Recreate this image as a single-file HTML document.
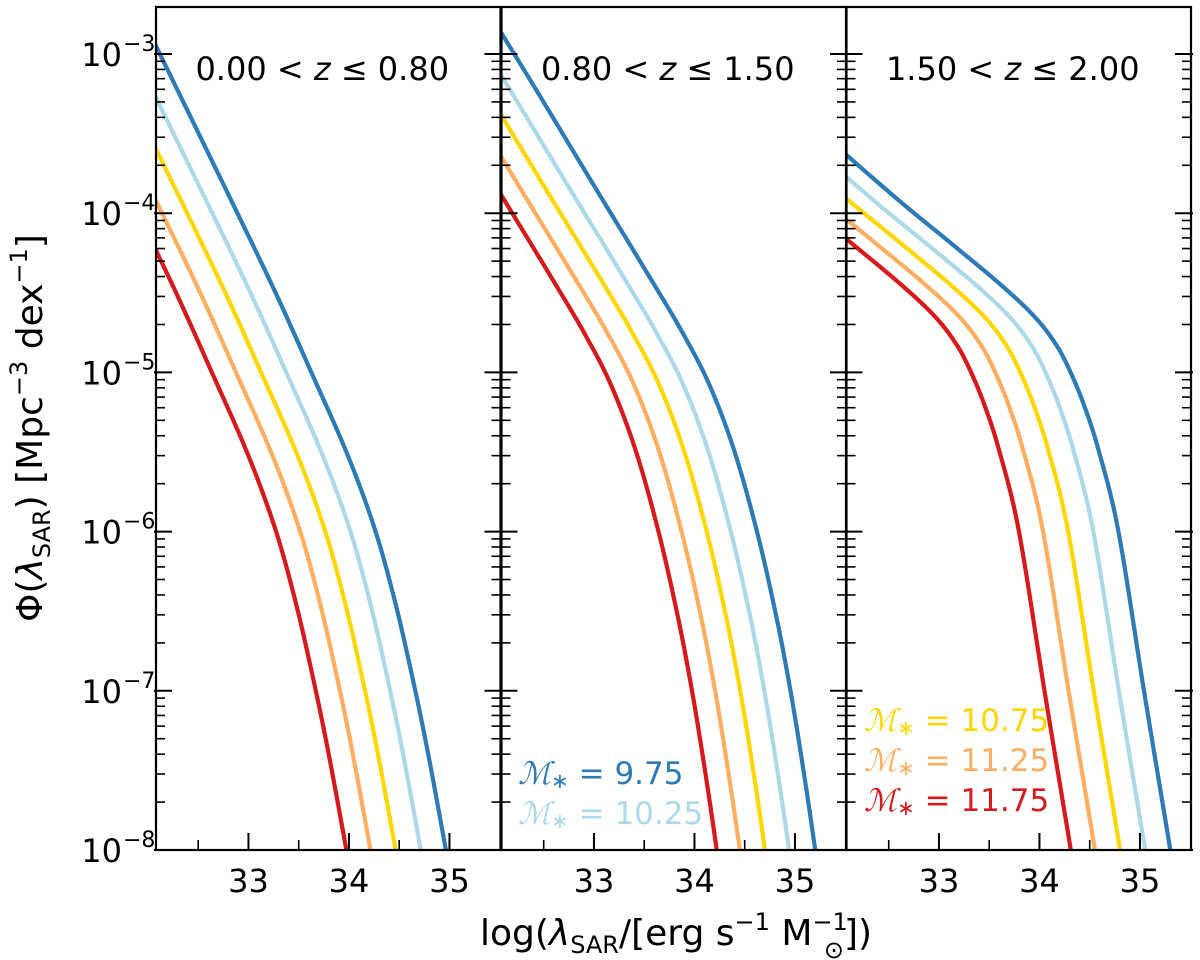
<!DOCTYPE html>
<html><head><meta charset="utf-8"><style>
html,body{margin:0;padding:0;background:#fff}
svg{display:block;font-family:"DejaVu Sans","Liberation Sans",sans-serif}
</style></head><body>
<svg id="chart" width="1200" height="960" viewBox="0 0 1200 960" xmlns="http://www.w3.org/2000/svg">
<g id="panels"></g>
<text x="676" y="945" font-size="36" text-anchor="middle">log(<tspan font-style="italic">λ</tspan><tspan font-size="24" dy="8">SAR</tspan><tspan dy="-8">/[erg s</tspan><tspan font-size="24" dy="-15">−1</tspan><tspan dy="15"> M</tspan><tspan font-size="24" dy="-15">−1</tspan><tspan font-size="24" dx="-24" dy="28">⊙</tspan><tspan dy="-13">])</tspan></text>
<text transform="translate(42,428) rotate(-90)" font-size="36" text-anchor="middle">Φ(<tspan font-style="italic">λ</tspan><tspan font-size="24" dy="8">SAR</tspan><tspan dy="-8">) [Mpc</tspan><tspan font-size="24" dy="-15">−3</tspan><tspan dy="15"> dex</tspan><tspan font-size="24" dy="-15">−1</tspan><tspan dy="15">]</tspan></text>
</svg>
<script>
// ---- data (x = log lambda_SAR, y = log10 Phi) ----
const panelTitles = [["0.00 < ", " ≤ 0.80"], ["0.80 < ", " ≤ 1.50"], ["1.50 < ", " ≤ 2.00"]];
const seriesNames = ["9.75", "10.25", "10.75", "11.25", "11.75"];
const seriesColors = ["#2c7bb6", "#abd9e9", "#ffd700", "#fdae61", "#d7191c"];
const xTickValues = [33, 34, 35];
const xMinorValues = [32.5, 33.5, 34.5, 35.5];
const yTickExps = [-3, -4, -5, -6, -7, -8];

const p1y = [-2.59,-2.95,-4.00,-4.50,-5.02,-5.54,-6.01,-6.47,-6.97,-7.37,-7.95,-8.31];
const p1x_blue = [31.80,32.08,32.89,33.27,33.64,34.00,34.27,34.47,34.65,34.78,34.95,35.05];
const p1x_lblue = [31.55,31.83,32.64,33.02,33.39,33.75,34.02,34.22,34.40,34.53,34.70,34.80];
const p1x_yel = [31.30,31.58,32.39,32.77,33.14,33.50,33.77,33.97,34.15,34.28,34.45,34.55];
const p1x_or = [31.05,31.33,32.14,32.52,32.89,33.25,33.52,33.72,33.90,34.03,34.20,34.30];
const p1x_red = [30.81,31.09,31.90,32.28,32.65,33.01,33.28,33.48,33.66,33.79,33.96,34.06];

const p2y = [-1.72,-2.30,-2.88,-3.92,-4.46,-4.76,-5.08,-5.50,-6.02,-6.55,-6.98,-7.36,-7.86,-8.45];
const p2x_blue = [30.90,31.50,32.09,33.09,33.61,33.89,34.15,34.40,34.63,34.82,34.95,35.05,35.17,35.30];
const p2x_lblue = [30.64,31.24,31.83,32.83,33.35,33.63,33.89,34.14,34.37,34.56,34.69,34.79,34.91,35.04];
const p2x_yel = [30.40,31.00,31.59,32.59,33.11,33.39,33.65,33.90,34.13,34.32,34.45,34.55,34.67,34.80];
const p2x_or = [30.15,30.75,31.34,32.34,32.86,33.14,33.40,33.65,33.88,34.07,34.20,34.30,34.42,34.55];
const p2x_red = [29.92,30.52,31.11,32.11,32.63,32.91,33.17,33.42,33.65,33.84,33.97,34.07,34.19,34.32];

const p3y = [-3.04,-3.64,-3.93,-4.22,-4.48,-4.67,-4.84,-5.00,-5.20,-5.47,-5.98,-7.00,-8.03,-8.46];
const p3x_blue = [31.00,32.09,32.62,33.18,33.67,33.98,34.18,34.31,34.44,34.58,34.78,35.04,35.31,35.42];
const p3x_lblue = [30.75,31.84,32.37,32.93,33.42,33.73,33.93,34.06,34.19,34.33,34.53,34.79,35.06,35.17];
const p3x_yel = [30.50,31.59,32.12,32.68,33.17,33.48,33.68,33.81,33.94,34.08,34.28,34.54,34.81,34.92];
const p3x_or = [30.25,31.34,31.87,32.43,32.92,33.23,33.43,33.56,33.69,33.83,34.03,34.29,34.56,34.67];
const p3x_red = [30.01,31.10,31.63,32.19,32.68,32.99,33.19,33.32,33.45,33.59,33.79,34.05,34.32,34.43];

const panelXs = [[p1x_blue,p1x_lblue,p1x_yel,p1x_or,p1x_red],[p2x_blue,p2x_lblue,p2x_yel,p2x_or,p2x_red],[p3x_blue,p3x_lblue,p3x_yel,p3x_or,p3x_red]];
const panelYs = [p1y, p2y, p3y];

// ---- layout ----
const NS = "http://www.w3.org/2000/svg";
const panelLeft = [156, 501.5, 846.5];
const panelW = 344.5, plotTop = 7, plotBottom = 850;
const xMin = 32.08, pxPerUnit = 100.5;
function xScale(p, v){ return panelLeft[p] + (v - xMin) * pxPerUnit; }
function yScale(l){ return 54 + (-3 - l) * 159.2; }

function mk(tag, attrs, parent){
  const e = document.createElementNS(NS, tag);
  for (const k in attrs) e.setAttribute(k, attrs[k]);
  parent.appendChild(e); return e;
}
const root = document.getElementById("panels");
const defs = mk("defs", {}, root);

// cubic Hermite with centred finite-difference tangents, sampled in data space
function smoothPath(p, xs, ys){
  const n = xs.length, m = [];
  for (let i = 0; i < n; i++){
    const a = Math.max(0, i-1), b = Math.min(n-1, i+1);
    m[i] = (ys[b]-ys[a])/(xs[b]-xs[a]);
  }
  let out = "";
  for (let i = 0; i < n-1; i++){
    const h = xs[i+1]-xs[i];
    for (let k = 0; k <= 12; k++){
      if (i > 0 && k === 0) continue;
      const t = k/12, t2 = t*t, t3 = t2*t;
      const yv = (2*t3-3*t2+1)*ys[i] + (t3-2*t2+t)*h*m[i] + (-2*t3+3*t2)*ys[i+1] + (t3-t2)*h*m[i+1];
      const xv = xs[i] + t*h;
      out += (out ? " L" : "M") + xScale(p, xv).toFixed(2) + "," + yScale(yv).toFixed(2);
    }
  }
  return out;
}

for (let p = 0; p < 3; p++){
  const L = panelLeft[p], R = L + panelW;
  const g = mk("g", {}, root);
  
  
  const cp = mk("clipPath", {id: "clip" + p}, defs);
  mk("rect", {x: L, y: plotTop, width: panelW, height: plotBottom - plotTop}, cp);

  const lines = mk("g", {"clip-path": "url(#clip" + p + ")"}, g);
  for (let s = 0; s < 5; s++){
    const path = mk("path", {d: smoothPath(p, panelXs[p][s], panelYs[p]), fill: "none", stroke: seriesColors[s], "stroke-width": 4.2, "stroke-linejoin": "round"}, lines);
    
    
  }

  // y ticks (both sides inward)
  for (let e = -2; e >= -8; e--){
    const yy = yScale(e);
    if (yy >= plotTop && yy <= plotBottom){
      mk("line", {x1: L-2, x2: L+16, y1: yy, y2: yy, stroke: "#000", "stroke-width": 2}, g);
      mk("line", {x1: R+2, x2: R-16, y1: yy, y2: yy, stroke: "#000", "stroke-width": 2}, g);
    }
    for (let m = 2; m <= 9; m++){
      const ym = yScale(e - 1 + Math.log10(m));
      if (ym > plotBottom - 1 || ym < plotTop + 1) continue;
      mk("line", {x1: L, x2: L+9, y1: ym, y2: ym, stroke: "#000", "stroke-width": 1.6}, g);
      mk("line", {x1: R, x2: R-9, y1: ym, y2: ym, stroke: "#000", "stroke-width": 1.6}, g);
    }
  }
  // x ticks
  xTickValues.forEach(v => {
    const xx = xScale(p, v);
    mk("line", {x1: xx, x2: xx, y1: plotBottom, y2: plotBottom-17, stroke: "#000", "stroke-width": 2}, g);
    const t = mk("text", {x: xx, y: plotBottom + 42, "font-size": 32, "text-anchor": "middle"}, g);
    t.textContent = String(v);
    
    
  });
  xMinorValues.forEach(v => {
    const xx = xScale(p, v);
    if (xx > R - 2) return;
    mk("line", {x1: xx, x2: xx, y1: plotBottom, y2: plotBottom-10, stroke: "#000", "stroke-width": 1.6}, g);
  });
  // frame
  mk("rect", {x: L, y: plotTop, width: panelW, height: plotBottom - plotTop, fill: "none", stroke: "#000", "stroke-width": 2.2}, g);
  // title
  const tt = mk("text", {x: L + panelW/2 - 6, y: 80, "font-size": 32, "text-anchor": "middle"}, g);
  tt.innerHTML = panelTitles[p][0] + '<tspan font-style="italic">z</tspan>' + panelTitles[p][1];
  
  
}

// y tick labels
const axG = mk("g", {}, root);


yTickExps.forEach(e => {
  const t = mk("text", {x: 122, y: yScale(e) + 12, "font-size": 32, "text-anchor": "end"}, axG);
  t.textContent = "10";
  
  
  const s = mk("text", {x: 123, y: yScale(e) - 3, "font-size": 22}, axG);
  s.textContent = "−" + (-e);
  
  
});

// legend
const legendPos = [[518, 784], [518, 824], [864, 731], [864, 771], [864, 811]];
for (let s = 0; s < 5; s++){
  const t = mk("text", {x: legendPos[s][0], y: legendPos[s][1], "font-size": 31, fill: seriesColors[s]}, root);
  t.innerHTML = '<tspan font-family="DejaVu Serif, serif" font-style="italic">ℳ</tspan><tspan font-size="21" dy="4">∗</tspan><tspan dy="-4"> = ' + seriesNames[s] + '</tspan>';
  
  
}
</script>
</body></html>
